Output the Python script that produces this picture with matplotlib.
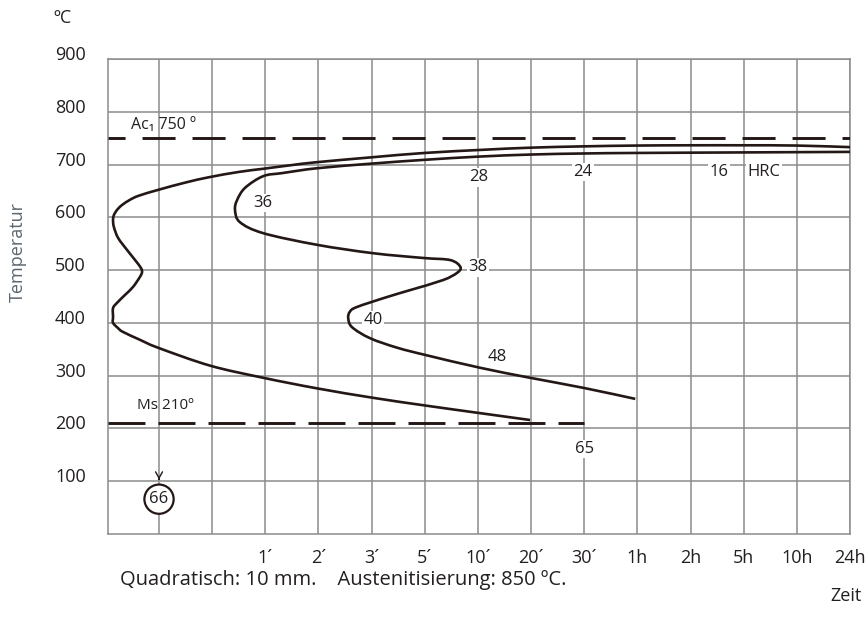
import matplotlib
matplotlib.use('Agg')
import matplotlib.pyplot as plt
import numpy as np
from matplotlib.path import Path
from matplotlib.patches import PathPatch
from matplotlib.transforms import ScaledTranslation

plt.rcParams['font.family'] = ['Open Sans', 'DejaVu Sans']
plt.rcParams['lines.scale_dashes'] = False

# ---- data ----
time_labels = ['1´', '2´', '3´', '5´', '10´', '20´', '30´', '1h', '2h', '5h', '10h', '24h']
time_pos = [3, 4, 5, 6, 7, 8, 9, 10, 11, 12, 13, 14]
temp_ticks = [100, 200, 300, 400, 500, 600, 700, 800, 900]

# outer transformation curve (start of transformation)
outer_x = [14.0, 13.0, 12.0, 11.0, 10.0, 9.0, 8.0, 7.1, 6.0, 5.03, 3.97, 3.5,
           2.96, 2.5, 1.94, 1.5, 1.0, 0.62, 0.45, 0.30, 0.21, 0.15, 0.135, 0.15,
           0.23, 0.40, 0.55, 0.66, 0.68, 0.64, 0.51, 0.36, 0.21, 0.135, 0.135, 0.135,
           0.23, 0.32, 0.64, 0.98, 1.96, 2.96, 3.97, 5.03, 6.04, 7.04, 7.98]
outer_y = [733, 736, 736.5, 736.5, 736, 734.5, 732, 728, 722, 714, 704.5, 699,
           692, 686, 676, 666, 652.5, 641, 633, 623, 614, 604, 595, 582,
           561, 538, 519, 504, 496, 487, 468, 453, 438, 428, 411, 400,
           390, 383, 368, 353, 319, 296, 276, 258, 243, 229, 216]

# inner curve (end of transformation)
inner_x = [14.0, 12.0, 10.0, 9.0, 8.0, 7.0, 6.0, 5.03, 3.97, 3.33, 2.96, 2.62,
           2.47, 2.43, 2.52, 2.96, 3.97, 5.03, 5.97, 6.48, 6.67, 6.61, 6.34, 5.72,
           5.29, 4.72, 4.59, 4.56, 4.63, 4.97, 5.48, 6.04, 7.04, 7.98, 8.98, 9.96]
inner_y = [724, 723, 722, 721, 719, 715, 709, 702, 693, 684, 678, 656,
           633, 614, 591, 570, 548, 532, 523, 519, 506, 495, 481, 462,
           449, 430, 421, 409, 392, 371, 353, 338.5, 315, 296, 277, 256]

ac1_temp = 750
ms_temp = 210
ms_end = 9

hardness_text = ['36', '38', '40', '48', '28', '24', '16', 'HRC', '65']
hardness_x = [2.96, 7.0, 5.03, 7.36, 7.02, 8.98, 11.54, 12.38, 9.0]
hardness_y = [627, 505, 405, 335, 676, 686, 686, 686, 161]

water_value = '66'
water_x = 1.0
water_y = 66


def smooth_path(xs, ys):
    """Smooth curve (Catmull-Rom rendered as cubic Bezier) through the read points."""
    P = np.column_stack([xs, ys]).astype(float)
    E = np.vstack([P[0], P, P[-1]])
    verts = [P[0]]
    codes = [Path.MOVETO]
    for i in range(1, len(E) - 2):
        p0, p1, p2, p3 = E[i - 1], E[i], E[i + 1], E[i + 2]
        verts += [p1 + (p2 - p0) / 6.0, p2 - (p3 - p1) / 6.0, p2]
        codes += [Path.CURVE4] * 3
    return Path(verts, codes)


# ---- figure ----
ink = '#231815'
grid_c = '#8c8c8c'
txt_c = '#231f20'
fig = plt.figure(figsize=(8.67, 6.21), dpi=100)
ax = fig.add_axes([108 / 867, 1 - 534 / 621, (850 - 108) / 867, (534 - 59) / 621])
x_left = 0.04
ax.set_xlim(x_left, 14.0)
ax.set_ylim(0, 900)

ax.set_xticks(range(1, 15))
ax.set_xticklabels(['', ''] + time_labels)
ax.set_yticks(temp_ticks)
ax.set_yticklabels([str(t) for t in temp_ticks])
ax.tick_params(axis='both', length=0, labelsize=13, labelcolor=txt_c)
ax.tick_params(axis='y', pad=16)
ax.tick_params(axis='x', pad=11)
for lab in ax.get_yticklabels():
    lab.set_transform(lab.get_transform() + ScaledTranslation(0, 0.06, fig.dpi_scale_trans))

ax.grid(True, color=grid_c, linewidth=1.1)
ax.set_axisbelow(True)
for s in ax.spines.values():
    s.set_color(grid_c)
    s.set_linewidth(1.1)

# reference lines
ax.axhline(ac1_temp, color=ink, linewidth=2.1, linestyle=(11.5, (23.8, 12.2)), zorder=4)
ax.plot([x_left, ms_end], [ms_temp, ms_temp], color=ink, linewidth=2.1,
        linestyle=(0, (26.6, 9.4)), zorder=4)

# curves
for cx, cy in ((outer_x, outer_y), (inner_x, inner_y)):
    ax.add_patch(PathPatch(smooth_path(cx, cy), fill=False, edgecolor=ink,
                           linewidth=1.9, joinstyle='round', capstyle='butt', zorder=5))

# hardness labels
for t, x, y in zip(hardness_text, hardness_x, hardness_y):
    ax.text(x, y, t, ha='center', va='center', fontsize=12, color=txt_c, zorder=3,
            bbox=dict(facecolor='white', edgecolor='none', pad=1.0))

# circled value with arrow
ax.text(water_x, water_y, water_value, ha='center', va='center', fontsize=12,
        color=txt_c, zorder=3,
        bbox=dict(boxstyle='circle,pad=0.3', facecolor='white', edgecolor=ink, linewidth=1.6))
ax.annotate('', xy=(water_x, water_y + 32), xytext=(water_x, water_y + 43),
            arrowprops=dict(arrowstyle='->,head_length=0.45,head_width=0.25',
                            color=ink, linewidth=1.0))

ax.text(x_left + 0.44, 775, 'Ac₁ 750 º', fontsize=11.5, color=txt_c, ha='left', va='center')
ax.text(x_left + 0.54, 243, 'Ms 210º', fontsize=11, color=txt_c, ha='left', va='center')

fig.text(63 / 867, 1 - 18 / 621, 'ºC', fontsize=13, color=txt_c, ha='center', va='center')
fig.text(18 / 867, 1 - 252 / 621, 'Temperatur', fontsize=13, color='#5b6670',
         rotation=90, ha='center', va='center')
fig.text(862 / 867, 1 - 596 / 621, 'Zeit', fontsize=13, color=txt_c, ha='right', va='center')
fig.text(120 / 867, 1 - 580 / 621, 'Quadratisch: 10 mm.    Austenitisierung: 850 ºC.',
         fontsize=14.5, color=txt_c, ha='left', va='center')

fig.savefig('out.png', dpi=100)
